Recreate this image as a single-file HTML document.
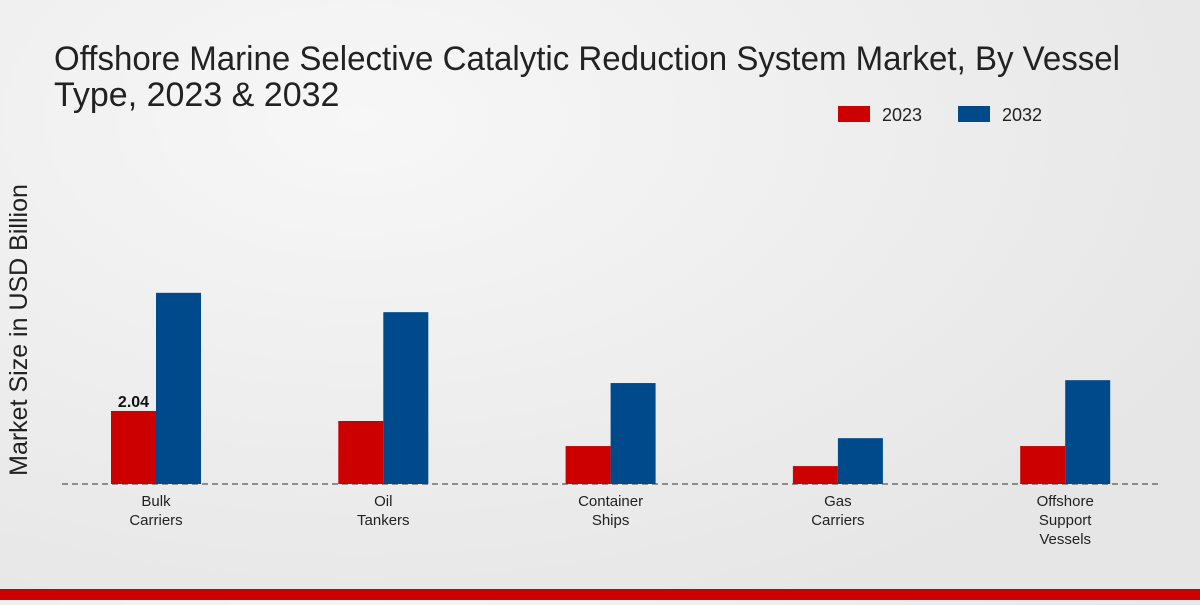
<!DOCTYPE html>
<html><head><meta charset="utf-8"><style>
body{margin:0;width:1200px;height:600px;overflow:hidden;font-family:"Liberation Sans",sans-serif;background:radial-gradient(ellipse at 30% 20%,#f7f7f7,#e6e6e6 80%);}
</style></head><body>
<svg width="1200" height="600">
<text x="54" y="70" font-size="34" fill="#222" textLength="1066" lengthAdjust="spacingAndGlyphs">Offshore Marine Selective Catalytic Reduction System Market, By Vessel</text>
<text x="54" y="106" font-size="34" fill="#222">Type, 2023 &amp; 2032</text>
<rect x="838" y="106" width="32" height="16" fill="#cc0000"/>
<text x="882" y="121" font-size="18" fill="#222">2023</text>
<rect x="958" y="106" width="32" height="16" fill="#004a8c"/>
<text x="1002" y="121" font-size="18" fill="#222">2032</text>
<text transform="translate(27,330) rotate(-90)" text-anchor="middle" font-size="25" fill="#222">Market Size in USD Billion</text>
<line x1="62" y1="484" x2="1160" y2="484" stroke="#333" stroke-dasharray="6,4"/>
<g id="bars"></g>
<rect x="0" y="589" width="1200" height="11" fill="#cc0000"/>
</svg>
<script>
const categories=[["Bulk","Carriers"],["Oil","Tankers"],["Container","Ships"],["Gas","Carriers"],["Offshore","Support","Vessels"]];
const values2023=[2.04,1.76,1.06,0.5,1.06];
const values2032=[5.34,4.8,2.82,1.28,2.9];
const base=484,scale=35.8;
const y=v=>base-v*scale;
const cx=i=>156+i*227.3;
const g=document.getElementById('bars');
const ns="http://www.w3.org/2000/svg";
categories.forEach((c,i)=>{
  [[values2023,"#cc0000",-45,"2023"],[values2032,"#004a8c",0,"2032"]].forEach(([arr,col,off,s])=>{
    const r=document.createElementNS(ns,'rect');
    r.setAttribute('x',cx(i)+off);r.setAttribute('y',y(arr[i]));
    r.setAttribute('width',45);r.setAttribute('height',base-y(arr[i]));r.setAttribute('fill',col);
    
    
    g.appendChild(r);
  });
  c.forEach((ln,j)=>{
    const t=document.createElementNS(ns,'text');
    t.setAttribute('x',cx(i));t.setAttribute('y',506+j*19);t.setAttribute('text-anchor','middle');
    t.setAttribute('font-size','15');t.setAttribute('fill','#222');t.textContent=ln;
    
    
    g.appendChild(t);
  });
});
const lab=document.createElementNS(ns,'text');
lab.setAttribute('x',cx(0)-22.5);lab.setAttribute('y',y(values2023[0])-4);lab.setAttribute('text-anchor','middle');
lab.setAttribute('font-size','16');lab.setAttribute('font-weight','bold');lab.setAttribute('fill','#111');
lab.textContent=values2023[0].toFixed(2);


g.appendChild(lab);
</script>
</body></html>
